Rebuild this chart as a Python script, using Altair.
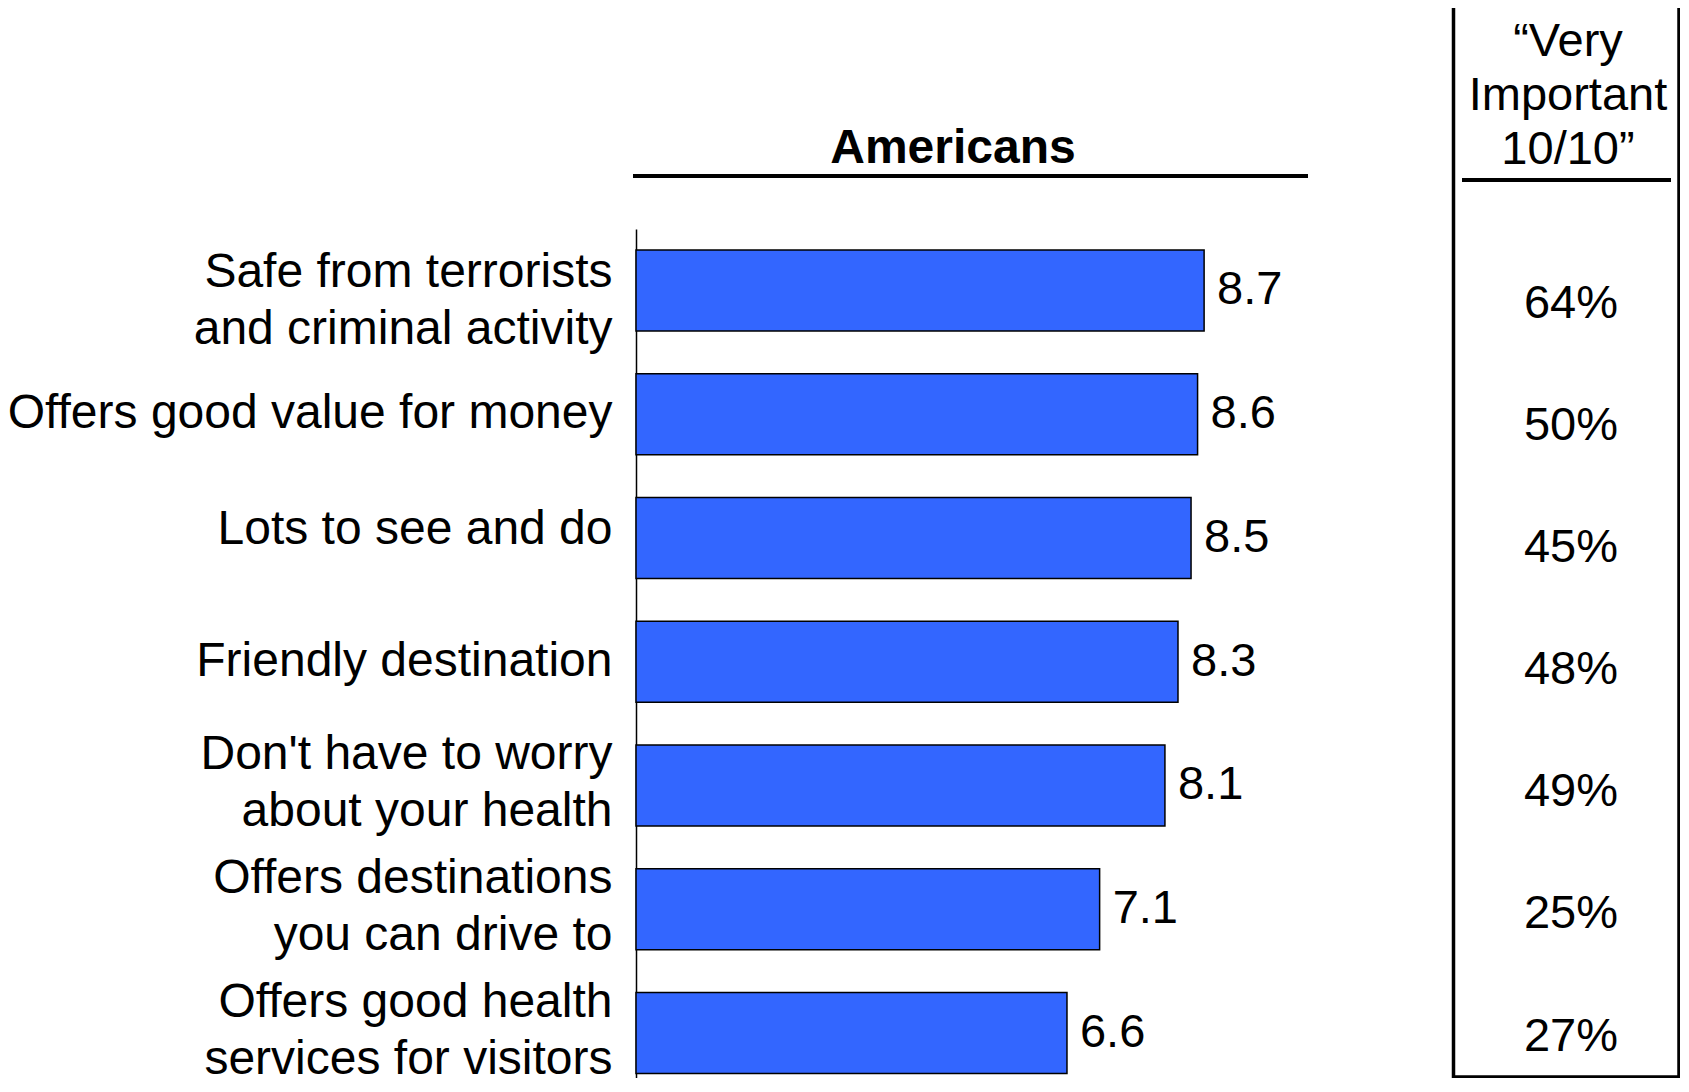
import altair as alt
import pandas as pd

# ---- data ----
categories = [
    "Safe from terrorists|and criminal activity",
    "Offers good value for money",
    "Lots to see and do",
    "Friendly destination",
    "Don't have to worry|about your health",
    "Offers destinations|you can drive to",
    "Offers good health|services for visitors",
]
scores = [8.7, 8.6, 8.5, 8.3, 8.1, 7.1, 6.6]
very_important = [64, 50, 45, 48, 49, 25, 27]

panel_title = "Americans"
column_title = ["\u201cVery", "Important", "10/10\u201d"]

df = pd.DataFrame({
    "category": categories,
    "score": scores,
    "score_label": [f"{s:.1f}" for s in scores],
    "pct_label": [f"{p}%" for p in very_important],
})
one = pd.DataFrame({"k": [0]})

FONT = "Liberation Sans"
W, H = 653, 849

label_offset = {
    "condition": [
        {"test": "datum.value == 'Safe from terrorists|and criminal activity'", "value": -17},
        {"test": "indexof(datum.value, '|') >= 0", "value": -30},
        {"test": "datum.value == 'Lots to see and do'", "value": -8},
    ],
    "value": 0,
}

band_scale = alt.Scale(type="band", paddingInner=0.3455, paddingOuter=0.1033, align=0.82)

y_band = alt.Y(
    "category:N", sort=categories, title=None, scale=band_scale,
    axis=alt.Axis(labelExpr="split(datum.value, '|')", labelFontSize=48,
                  labelLineHeight=57, labelPadding=24, ticks=False,
                  labelOffset=label_offset,
                  domainColor="black", domainWidth=1.5, labelColor="black",
                  labelFont=FONT, labelLimit=0, grid=False),
)
y_band_noaxis = alt.Y("category:N", sort=categories, title=None, scale=band_scale, axis=None)
x_score = alt.X("score:Q", scale=alt.Scale(domain=[0, 10], nice=False), axis=None)

bars = alt.Chart(df).mark_bar(color="#3366FF", stroke="black", strokeWidth=1.5).encode(
    x=x_score, y=y_band)

values = alt.Chart(df).mark_text(align="left", baseline="middle", dx=13, font=FONT,
                                 fontSize=47, color="black").encode(
    x=x_score, y=y_band_noaxis, text="score_label:N")

pcts = alt.Chart(df).mark_text(align="center", baseline="middle", font=FONT,
                               fontSize=47, color="black").encode(
    x=alt.value(935),
    y=alt.Y("category:N", sort=categories, title=None,
            scale=alt.Scale(type="point", padding=0.477, align=0.644), axis=None),
    text="pct_label:N")

title_txt = alt.Chart(one).mark_text(align="center", baseline="alphabetic", font=FONT,
                                     fontSize=48, fontWeight="bold", color="black").encode(
    x=alt.value(317), y=alt.value(-66), text=alt.value(panel_title))

title_rule = alt.Chart(one).mark_rule(color="black", strokeWidth=4).encode(
    x=alt.value(-3), x2=alt.value(672), y=alt.value(-53))

box = alt.Chart(one).mark_rect(fillOpacity=0, stroke="black", strokeWidth=3.5).encode(
    x=alt.value(817.5), x2=alt.value(1043), y=alt.value(-223), y2=alt.value(848))

col_txt = alt.Chart(one).mark_text(align="center", baseline="alphabetic", font=FONT,
                                   fontSize=47, lineHeight=54, color="black").encode(
    x=alt.value(932), y=alt.value(-173), text=alt.value(column_title))

col_rule = alt.Chart(one).mark_rule(color="black", strokeWidth=4).encode(
    x=alt.value(826), x2=alt.value(1035), y=alt.value(-49))

chart = alt.layer(
    bars, values, pcts, title_txt, title_rule, box, col_txt, col_rule
).resolve_scale(y="independent").properties(
    width=W, height=H,
    padding={"left": 628, "top": 221, "right": 391, "bottom": 0},
    autosize=alt.AutoSizeParams(type="none"),
    background="white",
).configure_view(stroke=None)

chart.save("out.html", embed_options={"renderer": "svg", "actions": False})
